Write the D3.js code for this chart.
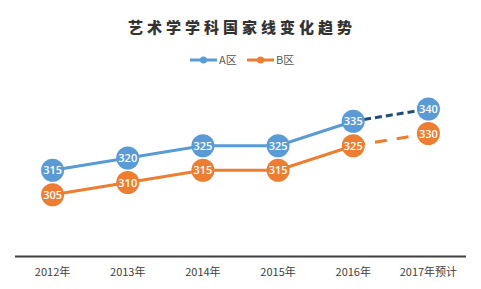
<!DOCTYPE html>
<html>
<head>
<meta charset="utf-8">
<script src="https://cdn.jsdelivr.net/npm/d3@7"></script>
<style>
  body { margin: 0; background: #fff; }
  svg { font-family: "Noto Sans CJK SC", "Open Sans", sans-serif; }
</style>
</head>
<body>
<div id="chart"></div>
<script>
// chart data
const years = ["2012年", "2013年", "2014年", "2015年", "2016年", "2017年预计"];
const seriesA = [315, 320, 325, 325, 335, 340];
const seriesB = [305, 310, 315, 315, 325, 330];
const seriesNames = ["A区", "B区"];

const width = 481;
const height = 289;

const svg = d3.select("#chart")
    .append("svg")
    .attr("width", width)
    .attr("height", height);

//scales
const xScale = d3.scaleBand()
    .domain(years)
    .range([15, 466]);

const yScale = d3.scaleLinear()
    .domain([280, 360])
    .range([256, 60]);

const cx = function(i) { return xScale(years[i]) + xScale.bandwidth() / 2; };

//title
svg.append("text")
    .attr("x", 242)
    .attr("y", 33)
    .attr("text-anchor", "middle")
    .attr("font-size", "15px")
    .attr("font-weight", "900")
    .attr("letter-spacing", "4px")
    .attr("fill", "#333")
    .text("艺术学学科国家线变化趋势");

//legend
const legendItems = [
    { name: seriesNames[0], color: "#5B9BD5", x: 190 },
    { name: seriesNames[1], color: "#ED7D31", x: 247 }
];
legendItems.forEach(function(item) {
    const g = svg.append("g").attr("transform", "translate(" + item.x + ",60)");
    g.append("line").attr("x1", 0).attr("x2", 27).attr("stroke", item.color).attr("stroke-width", 3);
    g.append("circle").attr("cx", 13.5).attr("r", 3.5).attr("fill", item.color);
    g.append("text").attr("x", 29).attr("y", 4).attr("font-size", "11px").attr("fill", "#555").text(item.name);
});

//x axis
svg.append("line")
    .attr("x1", xScale.range()[0])
    .attr("x2", xScale.range()[1])
    .attr("y1", 256.5)
    .attr("y2", 256.5)
    .attr("stroke", "#404040")
    .attr("stroke-width", 2);

svg.append("g")
    .selectAll("text")
    .data(years)
    .enter().append("text")
    .attr("x", function(d, i) { return cx(i); })
    .attr("y", 276)
    .attr("text-anchor", "middle")
    .attr("font-size", "11px")
    .attr("fill", "#404040")
    .text(function(d) { return d; });

//draw lines and markers for each series
function drawSeries(values, color, dashColor, dash) {
    const solid = values.slice(0, 5);
    const line = d3.line()
        .x(function(d, i) { return cx(i); })
        .y(function(d) { return yScale(d); });

    svg.append("path")
        .datum(solid)
        .attr("d", line)
        .attr("fill", "none")
        .attr("stroke", color)
        .attr("stroke-width", 3);

    svg.append("line")
        .attr("x1", cx(4))
        .attr("y1", yScale(values[4]))
        .attr("x2", cx(5))
        .attr("y2", yScale(values[5]))
        .attr("stroke", dashColor)
        .attr("stroke-width", 3)
        .attr("stroke-dasharray", dash);

    const pts = svg.append("g")
        .selectAll("g")
        .data(values)
        .enter().append("g")
        .attr("transform", function(d, i) { return "translate(" + cx(i) + "," + yScale(d) + ")"; });

    pts.append("circle")
        .attr("r", 11.5)
        .attr("fill", color);

    pts.append("text")
        .attr("y", 4)
        .attr("text-anchor", "middle")
        .attr("font-size", "11px")
        .attr("font-weight", "600")
        .attr("font-family", "'Open Sans', sans-serif")
        .attr("fill", "#fff")
        .text(function(d) { return d; });
}

drawSeries(seriesA, "#5B9BD5", "#1F4E79", "7,4");
drawSeries(seriesB, "#ED7D31", "#ED7D31", "12,10");
</script>
</body>
</html>
